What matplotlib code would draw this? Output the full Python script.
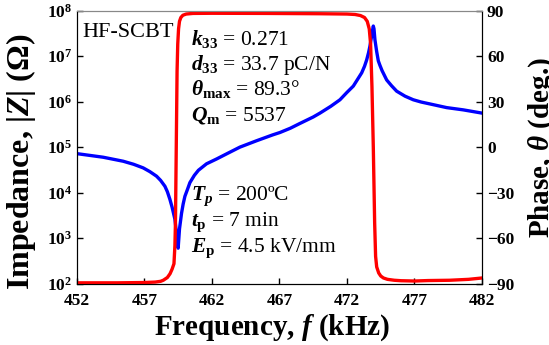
import numpy as np
import matplotlib
matplotlib.use('Agg')
import matplotlib.pyplot as plt
from matplotlib.ticker import FixedLocator, FixedFormatter

plt.rcParams['font.family'] = 'Liberation Serif'
plt.rcParams['mathtext.fontset'] = 'custom'
plt.rcParams['mathtext.rm'] = 'Liberation Serif'
plt.rcParams['mathtext.it'] = 'Liberation Serif:italic:bold'
plt.rcParams['mathtext.bf'] = 'Liberation Serif:bold'

# impedance |Z| (ohm) vs frequency (kHz)
f_z = [452, 453.95, 455.43, 456.2, 456.91, 457.4, 457.9, 458.2, 458.52,
       458.7, 458.89, 459.05, 459.26, 459.38, 459.5, 459.6, 459.75, 459.87,
       460.0, 460.2, 460.37, 460.7, 461.0, 461.6, 462.35, 463.2, 464.07,
       465.3, 466.5, 467.04, 467.8, 468.5, 469.5, 470.0, 470.8, 471.48,
       472.0, 472.47, 473.09, 473.3, 473.46, 473.6, 473.7, 473.8, 473.88,
       473.95, 474.0, 474.07, 474.2, 474.32, 474.44, 474.6, 474.94, 475.3,
       475.68, 476.3, 476.91, 477.5, 478.15, 479.38, 480.61, 482]
z_abs = [7.2e4, 6.0e4, 4.9e4, 4.2e4, 3.5e4, 2.9e4, 2.3e4, 1.86e4, 1.38e4,
         1.05e4, 7.1e3, 4.8e3, 2.6e3, 1.26e3, 6.0e2, 1.6e3, 3.5e3, 5.6e3,
         8.3e3, 1.2e4, 1.66e4, 2.4e4, 3.1e4, 4.3e4, 5.5e4, 7.4e4, 1.0e5,
         1.38e5, 1.86e5, 2.1e5, 2.6e5, 3.3e5, 4.6e5, 5.6e5, 7.9e5, 1.1e6,
         1.6e6, 2.2e6, 4.3e6, 6.0e6, 8.3e6, 1.2e7, 1.66e7, 2.5e7, 3.5e7,
         4.6e7, 4.0e7, 2.3e7, 1.26e7, 7.9e6, 6.3e6, 4.8e6, 3.0e6, 2.24e6,
         1.7e6, 1.32e6, 1.1e6, 9.8e5, 8.9e5, 7.4e5, 6.6e5, 5.6e5]

# phase (deg) vs frequency (kHz)
f_p = [452, 455, 457, 457.8, 458.2, 458.4, 458.7, 458.9, 459.05, 459.19,
       459.26, 459.3, 459.36, 459.42, 459.47, 459.53, 459.6, 459.7, 459.85,
       460.1, 460.6, 462, 466, 470, 472, 472.6, 473.0, 473.3, 473.5, 473.65,
       473.75, 473.85, 473.95, 474.05, 474.12, 474.2, 474.35, 474.5, 474.7,
       475.0, 475.5, 476, 477, 478, 479.6, 481, 482]
phase = [-89.5, -89.5, -89.3, -89, -88.5, -87.8, -86, -83.5, -80.5, -76.9,
         -65, -50, 0, 50, 68, 78, 83, 85.5, 87,
         87.8, 88.2, 88.3, 88.2, 88.0, 87.8, 87.5, 86.8, 85.5, 83, 78,
         68, 40, 0, -50, -72, -79, -83, -85, -86.3,
         -87.2, -87.8, -88.1, -88.3, -88, -87.8, -87.2, -86.3]

x_ticks = [452, 457, 462, 467, 472, 477, 482]
z_ticks = [1e2, 1e3, 1e4, 1e5, 1e6, 1e7, 1e8]
z_labels = [r'$\mathbf{10^{%d}}$' % k for k in range(2, 9)]
p_ticks = [-90, -60, -30, 0, 30, 60, 90]

fig = plt.figure(figsize=(5.49, 3.45), dpi=100)
ax = fig.add_axes([0.140, 0.178, 0.738, 0.791])
ax.semilogy(f_z, z_abs, color='#0000ff', lw=2.4)
ax.set_xlim(452, 482)
ax.set_ylim(1e2, 1e8)
ax.xaxis.set_major_locator(FixedLocator(x_ticks))
ax.yaxis.set_major_locator(FixedLocator(z_ticks))
ax.yaxis.set_major_formatter(FixedFormatter(z_labels))
ax.yaxis.set_minor_locator(FixedLocator([]))
ax.tick_params(direction='in', length=4, width=1, labelsize=12.5, top=False)
ax.tick_params(axis='x', pad=7)
for t in ax.get_xticklabels():
    t.set_fontweight('bold')
ax.spines['top'].set_color('#888888')
ax.set_xlabel(r'Frequency, $f$ (kHz)', fontsize=21, fontweight='bold')
ax.xaxis.set_label_coords(0.481, -0.105)
ax.set_ylabel(r'Impedance, |$Z$| ($\mathbf{\Omega}$)', fontsize=23,
              fontweight='bold')
ax.yaxis.set_label_coords(-0.097, 0.445)

ax2 = ax.twinx()
ax2.plot(f_p, phase, color='#ff0000', lw=2.4)
ax2.set_ylim(-90, 90)
ax2.yaxis.set_major_locator(FixedLocator(p_ticks))
ax2.tick_params(direction='in', length=4, width=1, labelsize=12.5)
for t in ax2.get_yticklabels():
    t.set_fontweight('bold')
ax2.spines['top'].set_color('#888888')
ax2.set_ylabel(r'Phase, $\theta$ (deg.)', fontsize=21, fontweight='bold')
ax2.yaxis.set_label_coords(1.11, 0.5)

# annotations
ax.text(0.014, 0.955, 'HF-SCBT', transform=ax.transAxes, fontsize=16,
        va='top', ha='left')
params = [r'$k_{\mathbf{33}}$ = 0.271', r'$d_{\mathbf{33}}$ = 33.7 pC/N',
          r'$\theta_{\mathbf{max}}$ = 89.3°', r'$Q_{\mathbf{m}}$ = 5537']
poling = [r'$T_p$ = 200ºC', r'$t_{\mathbf{p}}$ = 7 min',
          r'$E_{\mathbf{p}}$ = 4.5 kV/mm']
for i, s in enumerate(params):
    fig.text(191 / 549, 1 - (45 + 25 * i) / 345, s, fontsize=15.5)
for i, s in enumerate(poling):
    fig.text(191 / 549, 1 - (200 + 26 * i) / 345, s, fontsize=15.5)

fig.savefig('out.png', dpi=100)
